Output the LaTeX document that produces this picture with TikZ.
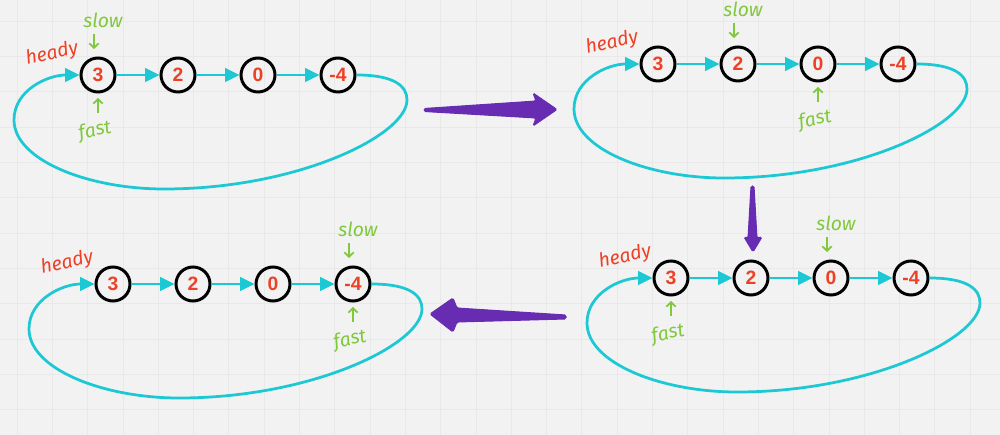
\documentclass[tikz,border=0pt]{standalone}
\usepackage{fontspec}
\setmainfont{Liberation Sans}
\newfontfamily\handfont{Fira Sans}
\usetikzlibrary{arrows.meta}
\begin{document}
\definecolor{bgc}{RGB}{242,242,242}
\definecolor{gridc}{RGB}{233,233,233}
\definecolor{cyanc}{RGB}{28,200,212}
\definecolor{redc}{RGB}{238,64,36}
\definecolor{greenc}{RGB}{128,200,60}
\definecolor{purc}{RGB}{104,44,178}
\tikzset{
  llnode/.style={circle,draw=black,line width=0.6mm,minimum size=6.8mm,inner sep=0pt,
    text=redc,font=\bfseries\fontsize{11}{11}\selectfont},
  link/.style={draw=cyanc,line width=0.55mm,-{Triangle[length=2.9mm,width=2.7mm]}},
  handlbl/.style={font=\handfont\itshape\fontsize{11}{11}\selectfont,text=greenc,inner sep=0pt},
  headlbl/.style={font=\handfont\itshape\fontsize{11}{11}\selectfont,text=redc,inner sep=0pt,rotate=12},
  ptr/.style={draw=greenc,line width=0.35mm,-{Straight Barb[length=0.9mm,width=1.9mm]}},
  bigarrow/.style={fill=purc,draw=purc,line width=0.2mm,rounded corners=0.3mm},
  gridline/.style={draw=gridc,line width=0.2mm}
}
% #1 prefix, #2 shift, #3 x of slow node, #4 x of fast node
\newcommand{\llpanel}[4]{%
  \begin{scope}[shift={#2}]
    \node[llnode] (#1a) at (0,0) {3};
    \node[llnode] (#1b) at (80,0) {2};
    \node[llnode] (#1c) at (160,0) {0};
    \node[llnode] (#1d) at (240,0) {-4};
    \draw[link] (#1a) -- (#1b);
    \draw[link] (#1b) -- (#1c);
    \draw[link] (#1c) -- (#1d);
    \draw[link] (#1d.east) .. controls (298,0) and (309,-12) .. (309,-25)
      .. controls (309,-60) and (200,-114) .. (66,-114)
      .. controls (-10,-114) and (-84,-85) .. (-84,-45)
      .. controls (-84,-15) and (-50,0) .. (#1a.west);
    \node[headlbl] (#1h) at (-46,21) {heady};
    \coordinate (#1s1) at ({#3-4},41);
    \coordinate (#1s2) at ({#3-4},26);
    \draw[ptr] (#1s1) -- (#1s2);
    \node[handlbl] (#1sl) at ({#3+5},55) {slow};
    \coordinate (#1f1) at ({#4},-38);
    \coordinate (#1f2) at ({#4},-23);
    \draw[ptr] (#1f1) -- (#1f2);
    \node[handlbl,rotate=12] (#1fl) at ({#4-3},-56) {fast};
  \end{scope}}
\begin{tikzpicture}[x=0.02cm,y=0.02cm]
  \useasboundingbox (0,0) rectangle (1000,-435);
  \fill[bgc] (0,0) rectangle (1000,-435);
  \foreach \i in {0,...,27} \draw[gridline] ({17.1+35.3*\i},0) -- ({17.1+35.3*\i},-435);
  \foreach \j in {0,...,11} \draw[gridline] (0,{-21.4-35.3*\j}) -- (1000,{-21.4-35.3*\j});

  \llpanel{p}{(98,-75)}{0}{0}
  \llpanel{q}{(658,-64)}{80}{160}
  \llpanel{r}{(671,-278)}{160}{0}
  \llpanel{s}{(113,-284)}{240}{240}

  % purple transition arrows
  \filldraw[bigarrow] (424,-108.5) -- (536,-101) -- (533,-93) -- (557,-109.5)
     -- (533,-126) -- (536,-118) -- (424,-111.5) -- cycle;
  \filldraw[bigarrow] (751,-186) -- (748,-238) -- (744,-237) -- (753,-252)
     -- (762,-237) -- (757,-238) -- (754,-186) -- cycle;
  \filldraw[bigarrow] (566,-315) -- (457,-308) -- (453,-298) -- (430,-314)
     -- (453,-332) -- (457,-322) -- (566,-319) -- cycle;
\end{tikzpicture}
\end{document}
